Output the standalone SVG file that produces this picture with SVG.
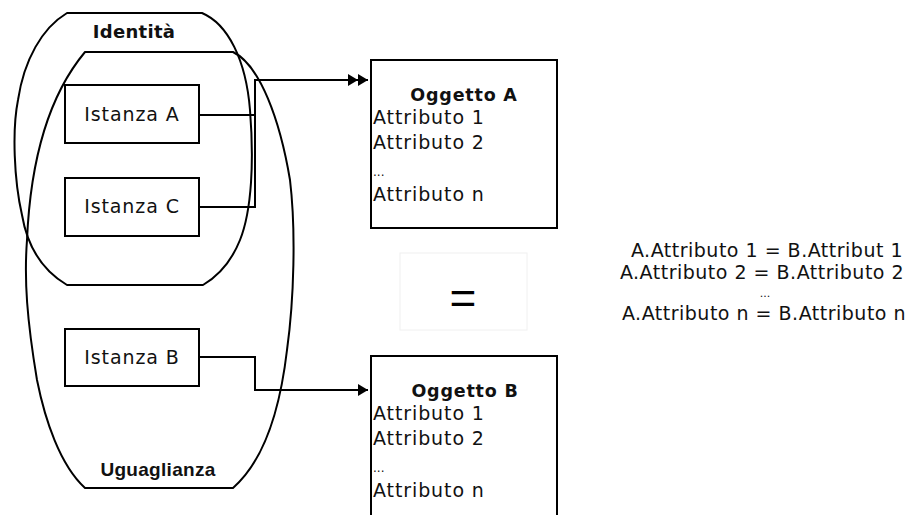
<svg xmlns="http://www.w3.org/2000/svg" width="914" height="515" viewBox="0 0 914 515">
  <style>
    .blob { fill: none; stroke: #000; stroke-width: 2; stroke-linejoin: round; }
    .box { fill: #fff; stroke: #000; stroke-width: 2; }
    .wire { fill: none; stroke: #000; stroke-width: 2; }
    .t { font-family: "DejaVu Sans", Verdana, sans-serif; font-size: 19px; letter-spacing: 0.9px; fill: #111; }
    .tb { font-family: "DejaVu Sans", Verdana, sans-serif; font-size: 17.5px; font-weight: bold; letter-spacing: 0.8px; fill: #111; }
    .lb { font-family: "DejaVu Sans", Verdana, sans-serif; font-size: 18px; font-weight: bold; letter-spacing: 0.3px; fill: #111; }
    .lb2 { font-family: "Liberation Sans", Arial, sans-serif; font-size: 19px; font-weight: bold; letter-spacing: 0.3px; fill: #111; }
    .dots { font-family: "DejaVu Sans", Verdana, sans-serif; font-size: 12px; fill: #111; }
  </style>
  <defs>
    <marker id="arrow" viewBox="0 0 10 12" refX="10" refY="6" markerWidth="10" markerHeight="12" markerUnits="userSpaceOnUse" orient="auto">
      <path d="M0,0 L10,6 L0,12 Z" fill="#000"/>
    </marker>
    <marker id="arrow2" viewBox="0 0 20 12" refX="20" refY="6" markerWidth="20" markerHeight="12" markerUnits="userSpaceOnUse" orient="auto">
      <path d="M0,0 L10,6 L0,12 Z M10,0 L20,6 L10,12 Z" fill="#000"/>
    </marker>
  </defs>
  <rect width="914" height="515" fill="#fff"/>

  <!-- set boundaries -->
  <g id="identita">
    <path class="blob" d="M67,13 L202,13 C228,24 246,60 250,110 C254,160 252,210 240,240 C232,260 220,275 203,285 L67,285 C45,272 28,250 22,215 C14,180 12,130 18,100 C24,60 42,28 67,13 Z"/>
    <text class="lb" x="134" y="38" text-anchor="middle">Identità</text>
  </g>
  <g id="uguaglianza">
    <path class="blob" d="M85,52 L233,52 C260,65 280,120 290,180 C296,230 294,300 287,350 C280,410 265,460 233,488 L85,488 C60,465 45,420 37,380 C27,320 24,280 27,240 C30,170 45,100 85,52 Z"/>
    <text class="lb2" x="158" y="476" text-anchor="middle">Uguaglianza</text>
  </g>

  <!-- instances -->
  <g id="istanza-a">
    <rect class="box" x="65" y="85" width="134" height="58"/>
    <text class="t" x="132" y="121" text-anchor="middle">Istanza A</text>
  </g>
  <g id="istanza-c">
    <rect class="box" x="65" y="178" width="134" height="58"/>
    <text class="t" x="132" y="213" text-anchor="middle">Istanza C</text>
  </g>
  <g id="istanza-b">
    <rect class="box" x="65" y="329" width="134" height="57"/>
    <text class="t" x="132" y="364" text-anchor="middle">Istanza B</text>
  </g>

  <!-- objects -->
  <g id="oggetto-a">
    <rect class="box" x="371" y="60" width="186" height="168"/>
    <text class="tb" x="464" y="101" text-anchor="middle">Oggetto A</text>
    <text class="t" x="373" y="124">Attributo 1</text>
    <text class="t" x="373" y="149">Attributo 2</text>
    <text class="dots" x="373" y="176">...</text>
    <text class="t" x="373" y="201">Attributo n</text>
  </g>
  <g id="oggetto-b">
    <rect class="box" x="371" y="356" width="186" height="180"/>
    <text class="tb" x="465" y="397" text-anchor="middle">Oggetto B</text>
    <text class="t" x="373" y="420">Attributo 1</text>
    <text class="t" x="373" y="445">Attributo 2</text>
    <text class="dots" x="373" y="472">...</text>
    <text class="t" x="373" y="497">Attributo n</text>
  </g>

  <!-- equality sign -->
  <g id="uguale">
    <rect x="400" y="253" width="127" height="77" fill="#fff" stroke="#f0f0f0" stroke-width="1"/>
    <text x="463" y="314" text-anchor="middle" font-family="Liberation Sans, Arial, sans-serif" font-size="46" fill="#000">=</text>
  </g>

  <!-- attribute comparison -->
  <g id="confronto" font-family="DejaVu Sans, Verdana, sans-serif" font-size="19" letter-spacing="0.5" fill="#111" text-anchor="middle">
    <text x="767" y="257">A.Attributo 1 = B.Attribut 1</text>
    <text x="762" y="279">A.Attributo 2 = B.Attributo 2</text>
    <text x="765" y="297" font-size="11" letter-spacing="0">...</text>
    <text x="764" y="320">A.Attributo n = B.Attributo n</text>
  </g>

  <!-- connectors -->
  <g id="connectors">
    <path class="wire" d="M199,115 H255 M199,207 H255 V80 H368" marker-end="url(#arrow2)"/>
    <path class="wire" d="M199,357 H255 V390 H368" marker-end="url(#arrow)"/>
  </g>
</svg>
